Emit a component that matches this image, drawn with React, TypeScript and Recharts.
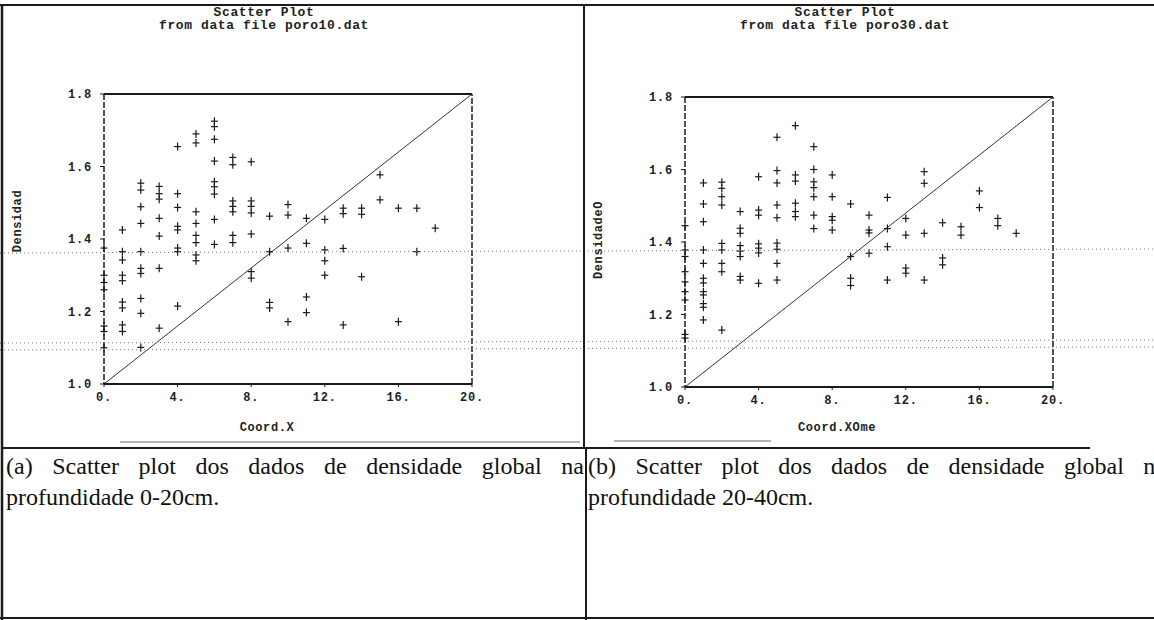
import React from 'react';
import { ScatterChart, Scatter, XAxis, YAxis, ReferenceLine } from 'recharts';

// grid columns (Coord.X) shared by both panels
const coordX = [0, 1, 2, 3, 4, 5, 6, 7, 8, 9, 10, 11, 12, 13, 14, 15, 16, 17, 18];

// densidade per column, depth 0-20cm (poro10.dat)
const dens10: number[][] = [
  [1.375, 1.3, 1.28, 1.26, 1.16, 1.145, 1.1],
  [1.425, 1.365, 1.342, 1.3, 1.285, 1.226, 1.21, 1.163, 1.145],
  [1.554, 1.535, 1.489, 1.443, 1.365, 1.319, 1.305, 1.236, 1.195, 1.101],
  [1.545, 1.525, 1.51, 1.457, 1.408, 1.319, 1.154],
  [1.655, 1.525, 1.487, 1.435, 1.425, 1.375, 1.365, 1.215],
  [1.69, 1.665, 1.475, 1.443, 1.41, 1.39, 1.356, 1.34],
  [1.725, 1.71, 1.675, 1.615, 1.558, 1.544, 1.524, 1.454, 1.385],
  [1.625, 1.605, 1.505, 1.49, 1.475, 1.41, 1.39],
  [1.613, 1.505, 1.49, 1.472, 1.414, 1.31, 1.292],
  [1.463, 1.365, 1.225, 1.21],
  [1.495, 1.466, 1.375, 1.172],
  [1.457, 1.388, 1.24, 1.197],
  [1.454, 1.37, 1.34, 1.3],
  [1.485, 1.47, 1.374, 1.163],
  [1.485, 1.468, 1.296],
  [1.577, 1.508],
  [1.485, 1.172],
  [1.485, 1.365],
  [1.43],
];

// densidade per column, depth 20-40cm (poro30.dat)
const dens30: number[][] = [
  [1.445, 1.378, 1.36, 1.318, 1.29, 1.263, 1.24, 1.145, 1.135],
  [1.563, 1.505, 1.456, 1.378, 1.341, 1.3, 1.287, 1.263, 1.254, 1.23, 1.22, 1.185],
  [1.565, 1.548, 1.525, 1.502, 1.396, 1.378, 1.341, 1.318, 1.157],
  [1.484, 1.438, 1.424, 1.39, 1.375, 1.36, 1.305, 1.295],
  [1.58, 1.488, 1.474, 1.395, 1.383, 1.37, 1.286],
  [1.689, 1.597, 1.563, 1.502, 1.467, 1.397, 1.38, 1.341, 1.295],
  [1.721, 1.585, 1.568, 1.507, 1.484, 1.47],
  [1.663, 1.6, 1.566, 1.55, 1.525, 1.474, 1.437],
  [1.585, 1.525, 1.47, 1.46, 1.433],
  [1.505, 1.36, 1.3, 1.28],
  [1.474, 1.433, 1.425, 1.369],
  [1.523, 1.437, 1.387, 1.295],
  [1.465, 1.419, 1.328, 1.314],
  [1.594, 1.562, 1.424, 1.295],
  [1.453, 1.356, 1.337],
  [1.442, 1.419],
  [1.541, 1.495],
  [1.465, 1.445],
  [1.424],
];

const xTicks = [0, 4, 8, 12, 16, 20];
const yTicks = [1.0, 1.2, 1.4, 1.6, 1.8];
const diagonal = [{ x: 0, y: 1.0 }, { x: 20, y: 1.8 }];

const INK = '#1a1a1a';
const MONO = '"Liberation Mono", "Courier New", monospace';

const toPoints = (cols: number[][]) =>
  cols.flatMap((vals, i) => vals.map((y) => ({ x: coordX[i], y })));

const Cross = (props: any) => {
  const { cx, cy } = props;
  if (cx == null || cy == null) return null;
  return (
    <g stroke={INK} strokeWidth={1.2}>
      <line x1={cx - 3.5} y1={cy} x2={cx + 3.5} y2={cy} />
      <line x1={cx} y1={cy - 4} x2={cx} y2={cy + 4} />
    </g>
  );
};

const monoText: React.CSSProperties = {
  position: 'absolute', fontFamily: MONO, fontWeight: 'bold', fontSize: 13,
  letterSpacing: 0.6, color: '#222', whiteSpace: 'nowrap', lineHeight: '13px',
};

interface PanelProps {
  left: number;
  top: number;
  file: string;
  xLabel: string;
  yLabel: string;
  titleX: number;
  xLabelX: number;
  yLabelY: number;
  points: { x: number; y: number }[];
}

const Panel: React.FC<PanelProps> = ({ left, top, file, xLabel, yLabel, titleX, xLabelX, yLabelY, points }) => (
  <div style={{ position: 'absolute', left, top, width: 580, height: 440 }}>
    <div style={{ ...monoText, left: titleX, top: 6 - top, transform: 'translateX(-50%)', textAlign: 'center' }}>
      Scatter Plot<br />from data file {file}
    </div>
    <div style={{ ...monoText, left: xLabelX, top: 422 - top, transform: 'translateX(-50%)', fontSize: 12 }}>
      {xLabel}
    </div>
    <div style={{
      ...monoText, left: 18 - 0, top: yLabelY - top, fontSize: 12,
      transform: 'translate(-50%, -50%) rotate(-90deg)',
    }}>
      {yLabel}
    </div>
    <ScatterChart width={580} height={440} margin={{ top: 94, right: 108, left: 44, bottom: 26 }}>
      <XAxis
        type="number" dataKey="x" domain={[0, 20]} ticks={xTicks} interval={0}
        tickFormatter={(v) => `${v}.`}
        axisLine={{ stroke: INK, strokeWidth: 2 }} tickLine={{ stroke: INK }} tickSize={3} tickMargin={5}
        tick={{ fill: '#222', fontSize: 12, fontFamily: MONO, fontWeight: 'bold', letterSpacing: 0.8 }}
      />
      <YAxis
        type="number" dataKey="y" domain={[1.0, 1.8]} ticks={yTicks} interval={0} width={60}
        tickFormatter={(v) => Number(v).toFixed(1)}
        axisLine={{ stroke: INK, strokeWidth: 1.5, strokeDasharray: '6 2' }} tickLine={{ stroke: INK }}
        tickSize={4} tickMargin={8}
        tick={{ fill: '#222', fontSize: 12, fontFamily: MONO, fontWeight: 'bold', letterSpacing: 0.8 }}
      />
      <ReferenceLine y={1.8} stroke={INK} strokeWidth={2} />
      <ReferenceLine x={20} stroke={INK} strokeWidth={1.5} strokeDasharray="6 2" />
      <ReferenceLine segment={diagonal} stroke="#333" strokeWidth={1} />
      <Scatter data={points} shape={Cross} isAnimationActive={false} />
    </ScatterChart>
  </div>
);

const captionStyle: React.CSSProperties = {
  position: 'absolute', top: 451, width: 578, fontFamily: '"Liberation Serif", "Times New Roman", serif',
  fontSize: 24, lineHeight: '31px', textAlign: 'justify', color: '#111',
};

export default function App() {
  return (
    <div style={{ position: 'fixed', left: 0, top: 0, width: 1154, height: 620, overflow: 'hidden', background: '#fff' }}>
      <Panel
        left={0} top={0} file="poro10.dat" xLabel="Coord.X" yLabel="Densidad"
        titleX={264} xLabelX={267} yLabelY={221} points={toPoints(dens10)}
      />
      <Panel
        left={581} top={3} file="poro30.dat" xLabel="Coord.XOme" yLabel="DensidadeO"
        titleX={845 - 581} xLabelX={837 - 581} yLabelY={240} points={toPoints(dens30)}
      />
      <div style={{ ...captionStyle, left: 6 }}>
        (a) Scatter plot dos dados de densidade global na profundidade 0-20cm.
      </div>
      <div style={{ ...captionStyle, left: 588 }}>
        (b) Scatter plot dos dados de densidade global na profundidade 20-40cm.
      </div>
      <svg width={1154} height={620} style={{ position: 'absolute', left: 0, top: 0, pointerEvents: 'none' }}>
        <g stroke="#777" strokeWidth={1} strokeDasharray="1 3">
          <line x1={0} y1={253} x2={1154} y2={249} />
          <line x1={0} y1={343} x2={1154} y2={340} />
          <line x1={0} y1={350} x2={1154} y2={347} />
        </g>
        <g stroke={INK}>
          <line x1={0} y1={5} x2={1154} y2={5} strokeWidth={2} />
          <line x1={2} y1={5} x2={2} y2={620} strokeWidth={2.5} />
          <line x1={584} y1={5} x2={584} y2={448} strokeWidth={2} />
          <line x1={586} y1={448} x2={586} y2={620} strokeWidth={2} />
          <line x1={2} y1={448} x2={1090} y2={448} strokeWidth={2} />
          <line x1={120} y1={442} x2={580} y2={442} strokeWidth={1} stroke="#666" />
          <line x1={614} y1={441} x2={771} y2={441} strokeWidth={1} stroke="#666" />
          <line x1={0} y1={618} x2={1154} y2={618} strokeWidth={2} />
        </g>
      </svg>
    </div>
  );
}
